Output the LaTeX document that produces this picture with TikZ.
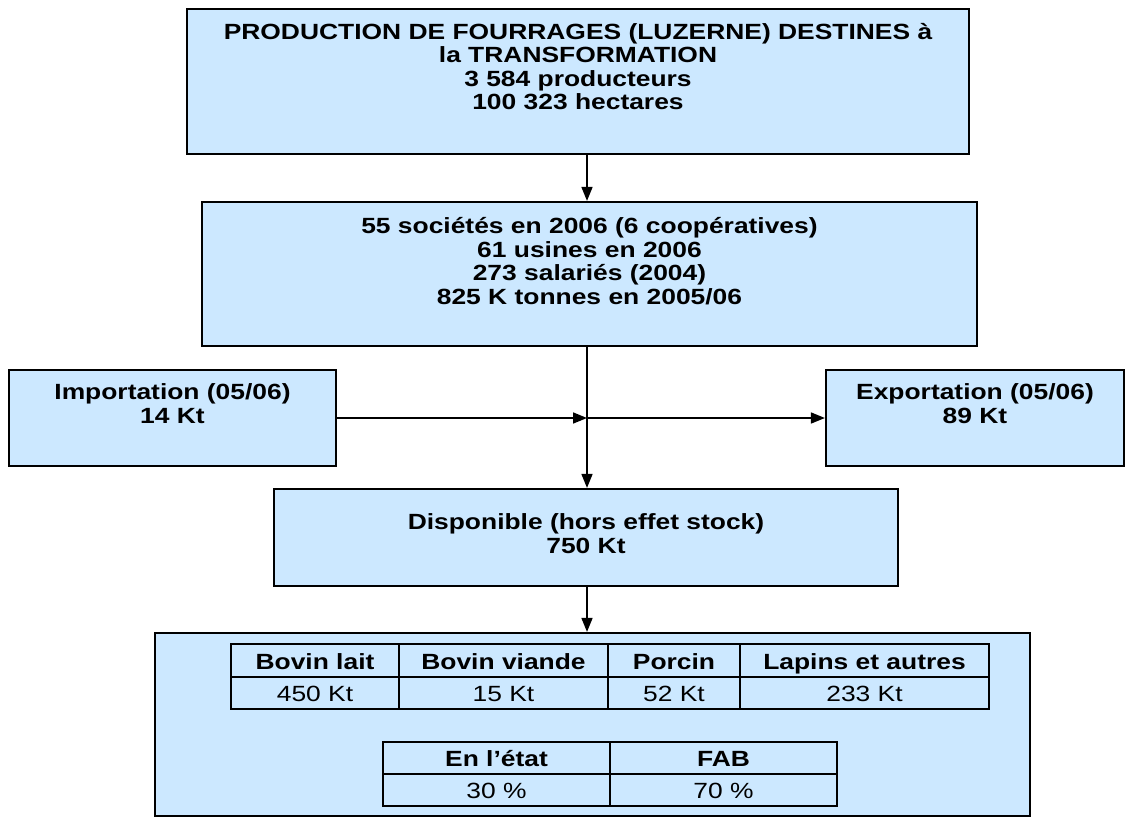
\documentclass[tikz,border=0pt]{standalone}
\usepackage{fontspec}
\setmainfont{Liberation Sans}[FakeStretch=1.2]
\usetikzlibrary{arrows.meta}
\definecolor{boxblue}{RGB}{204,232,255}
\newcommand{\firstline}{\rule{0pt}{16.5pt}}
\begin{document}
\begin{tikzpicture}[x=1pt,y=-1pt,
  box/.style={draw=black, line width=2.2pt, fill=boxblue, inner sep=0pt},
  txt/.style={font=\fontsize{22}{23.5}\selectfont\bfseries, align=center, inner sep=0pt, anchor=north},
  arr/.style={line width=1.6pt, -{Triangle[length=14pt,width=11pt]}},
  grid/.style={draw=black, line width=2pt},
  head/.style={font=\fontsize{22}{23}\selectfont\bfseries, inner sep=0pt, anchor=base},
  val/.style={font=\fontsize{22}{23}\selectfont, inner sep=0pt, anchor=base}
]
\useasboundingbox (0,0) rectangle (1125,817);

% boxes of the flow
\node[box, minimum width=782pt, minimum height=145pt] (b1) at (578,81.5) {};
\node[box, minimum width=775pt, minimum height=144pt] (b2) at (589.5,274) {};
\node[box, minimum width=327pt, minimum height=96pt] (imp) at (172.5,418) {};
\node[box, minimum width=298pt, minimum height=96pt] (exp) at (975,418) {};
\node[box, minimum width=624pt, minimum height=97pt] (disp) at (586,537.5) {};
\node[box, minimum width=875pt, minimum height=183pt] (big) at (592.5,724.5) {};

% texts of the boxes, set from the top of each box
\node[txt] (t1) at (578,22.5) {\firstline PRODUCTION DE FOURRAGES (LUZERNE) DESTINES à\\la TRANSFORMATION\\3 584 producteurs\\100 323 hectares};
\node[txt] (t2) at (589.5,217) {\firstline 55 sociétés en 2006 (6 coopératives)\\61 usines en 2006\\273 salariés (2004)\\825 K tonnes en 2005/06};
\node[txt] (t3) at (172.5,383) {\firstline Importation (05/06)\\14 Kt};
\node[txt] (t4) at (975,383) {\firstline Exportation (05/06)\\89 Kt};
\node[txt] (t5) at (586,513) {\firstline Disponible (hors effet stock)\\750 Kt};

% connectors
\coordinate (jx) at (587,418);
\draw[arr] (b1.south -| jx) -- (b2.north -| jx);
\draw[arr] (b2.south -| jx) -- (disp.north -| jx);
\draw[arr] (imp.east |- jx) -- (jx);
\draw[arr] (jx) -- (exp.west |- jx);
\draw[arr] (disp.south -| jx) -- (big.north -| jx);

% table of the uses by livestock
\draw[grid] (231,644) rectangle (989,709);
\draw[grid] (231,677) -- (989,677);
\foreach \c in {399,608,740} \draw[grid] (\c,644) -- (\c,709);
\node[head] (h1) at (315,669) {Bovin lait};
\node[head] (h2) at (503.5,669) {Bovin viande};
\node[head] (h3) at (674,669) {Porcin};
\node[head] (h4) at (864.5,669) {Lapins et autres};
\node[val] (v1) at (315,701) {450 Kt};
\node[val] (v2) at (503.5,701) {15 Kt};
\node[val] (v3) at (674,701) {52 Kt};
\node[val] (v4) at (864.5,701) {233 Kt};

% table of the forms of use
\draw[grid] (383,742) rectangle (837,806);
\draw[grid] (383,774) -- (837,774);
\draw[grid] (610,742) -- (610,806);
\node[head] (h5) at (496.5,766) {En l’état};
\node[head] (h6) at (723.5,766) {FAB};
\node[val] (v5) at (496.5,798) {30 \%};
\node[val] (v6) at (723.5,798) {70 \%};
\end{tikzpicture}
\end{document}
